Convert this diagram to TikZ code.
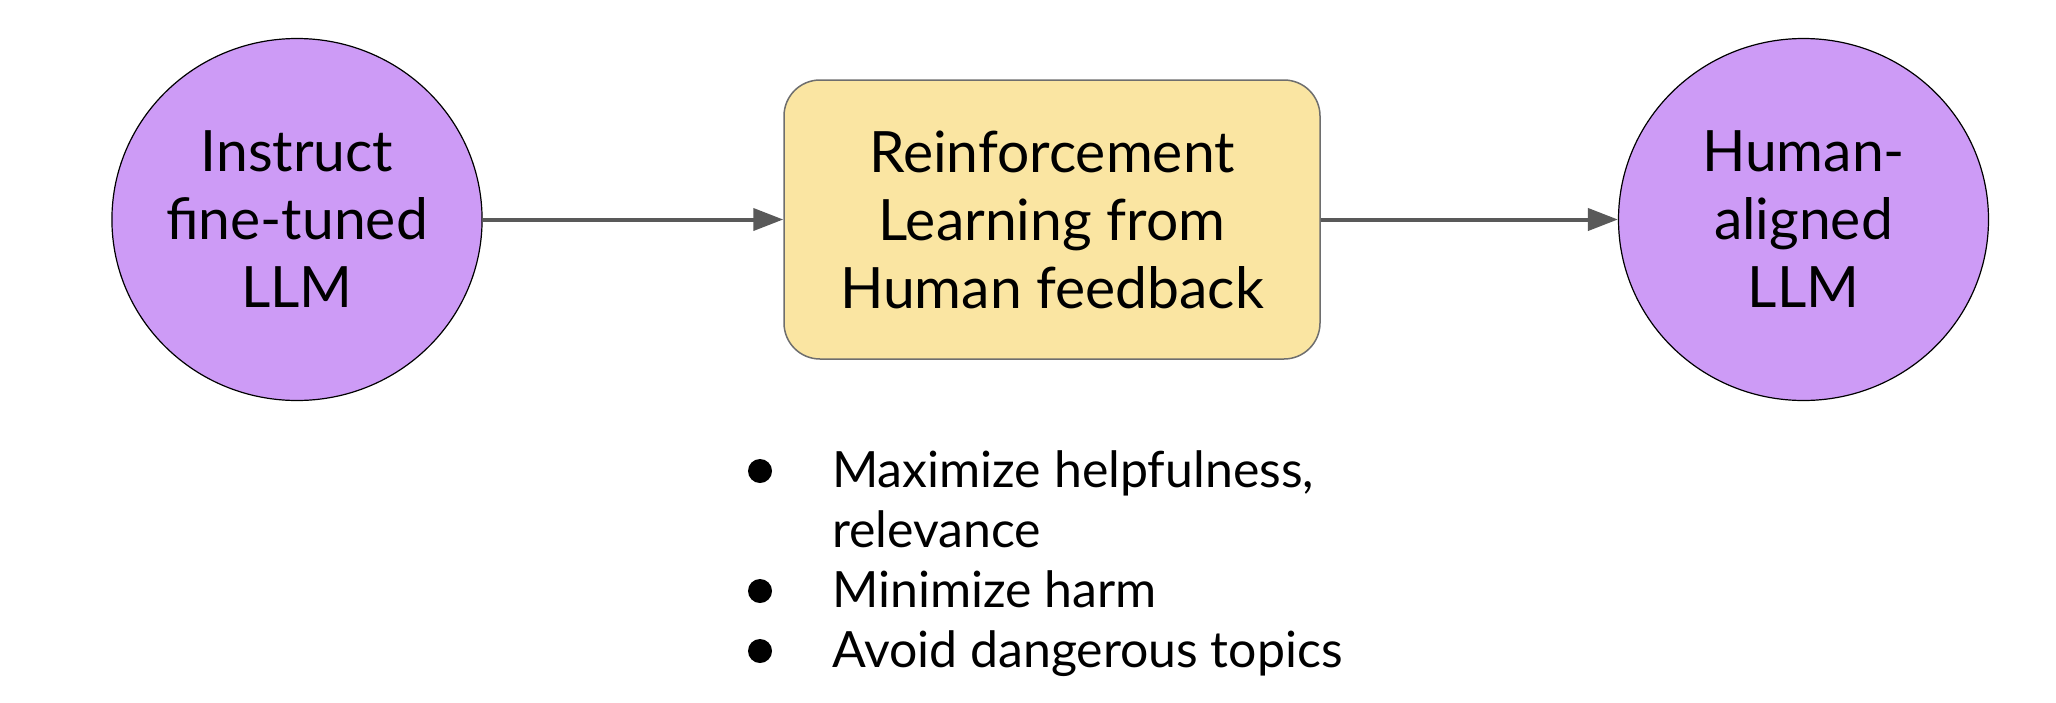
\documentclass[tikz,border=0pt]{standalone}
\usepackage{fontspec}
\setmainfont{Lato}
\usetikzlibrary{arrows.meta,shapes.geometric}
\definecolor{lav}{HTML}{CD9BF6}
\definecolor{sand}{HTML}{FAE5A2}
\definecolor{arrowgray}{HTML}{595959}
\definecolor{boxedge}{HTML}{6E6E6E}
\tikzset{
  model/.style={ellipse, draw=black, line width=1.2pt, fill=lav,
    minimum width=370pt, minimum height=362pt, inner sep=0pt,
    align=center, font=\fontsize{57}{68}\selectfont},
  stage/.style={rectangle, rounded corners=36pt, draw=boxedge, line width=1.5pt, fill=sand,
    minimum width=536pt, minimum height=279pt, inner sep=0pt,
    align=center, font=\fontsize{57}{68}\selectfont},
  flow/.style={draw=arrowgray, line width=4pt, -{Triangle[length=30pt,width=22pt]}},
  item/.style={anchor=base west, inner sep=0pt, font=\fontsize{50}{60}\selectfont},
  dot/.style={circle, fill=black, minimum size=24pt, inner sep=0pt}
}
\begin{document}
\begin{tikzpicture}[x=1pt,y=-1pt]
\useasboundingbox (0,0) rectangle (2056,702);
\node[model] (a) at (297,219.5) {Instruct\\fine-tuned\\LLM};
\node[stage] (b) at (1052,219.5) {Reinforcement\\Learning from\\Human feedback};
\node[model] (c) at (1803.5,219.5) {Human-\\aligned\\LLM};
\draw[flow] (a.east) -- (b.west);
\draw[flow] (b.east) -- (c.west);
\node[item] (t1) at (832,487) {Maximize helpfulness,};
\node[item] (t2) at (832,547) {relevance};
\node[item] (t3) at (832,607) {Minimize harm};
\node[item] (t4) at (832,667) {Avoid dangerous topics};
\node[dot] (d1) at (760,471) {};
\node[dot] (d3) at (760,591) {};
\node[dot] (d4) at (760,651) {};
\end{tikzpicture}
\end{document}
